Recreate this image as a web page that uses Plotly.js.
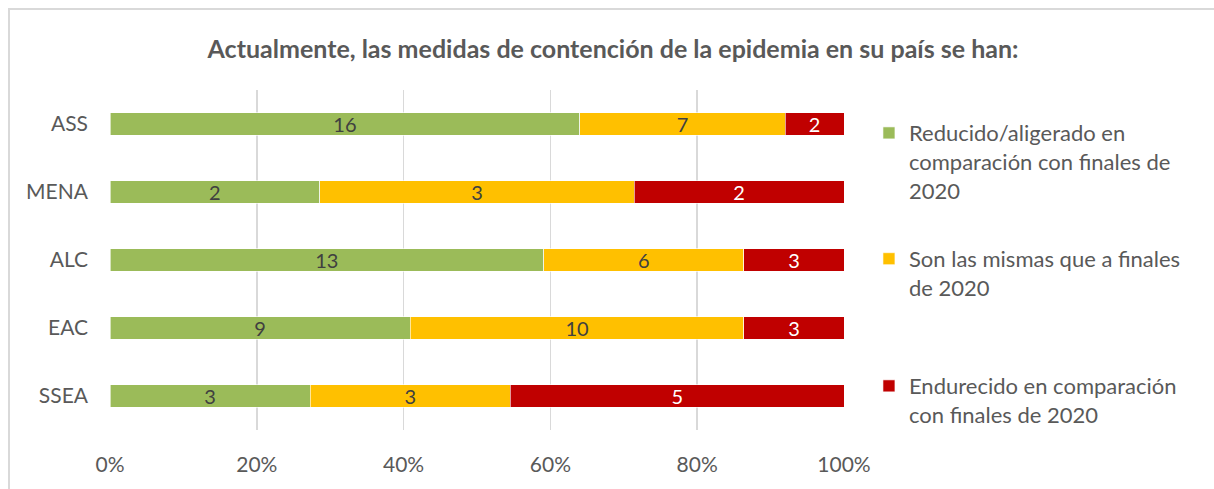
<!DOCTYPE html>
<html>
<head>
<meta charset="utf-8">
<script src="https://cdn.plot.ly/plotly-3.0.1.min.js"></script>
<style>
html,body{margin:0;padding:0;background:#fff;}
#chart{position:absolute;left:0;top:0;width:1214px;height:489px;}
#frame{position:absolute;left:8px;top:8px;width:1300px;height:600px;border-left:2px solid #d9d9d9;border-top:2px solid #d9d9d9;pointer-events:none;}
</style>
</head>
<body>
<div id="chart"></div>
<div id="frame"></div>
<script>
const categories = ["ASS", "MENA", "ALC", "EAC", "SSEA"];
const reducido = [16, 2, 13, 9, 3];
const mismas = [7, 3, 6, 10, 3];
const endurecido = [2, 2, 3, 3, 5];
const seriesNames = [
  "Reducido/aligerado en<br>comparación con finales de<br>2020",
  "Son las mismas que a finales<br>de 2020",
  "Endurecido en comparación<br>con finales de 2020"
];
const colors = ["#9BBB59", "#FFC000", "#C00000"];
const textColors = ["#404040", "#404040", "#FFFFFF"];
const titleText = "Actualmente, las medidas de contención de la epidemia en su país se han:";
const xTicks = [0, 20, 40, 60, 80, 100];
const xTickLabels = ["0%", "20%", "40%", "60%", "80%", "100%"];

const FONT = "Lato, 'Open Sans', sans-serif";
const legendIds = ["legend", "legend2", "legend3"];
const legendY = [0.935, 0.565, 0.191];
const allSeries = [reducido, mismas, endurecido];
const traces = allSeries.map((vals, i) => ({
  type: "bar",
  orientation: "h",
  y: categories,
  x: vals,
  name: seriesNames[i],
  legend: legendIds[i],
  marker: {color: colors[i], line: {color: "#ffffff", width: 0.6}},
  text: vals.map(String),
  textposition: "inside",
  insidetextanchor: "middle",
  constraintext: "none",
  textangle: 0,
  textfont: {family: FONT, size: 20, color: textColors[i]},
  hoverinfo: "skip"
}));

function legendCfg(y) {
  return {
    x: 1.034, xref: "paper", xanchor: "left",
    y: y, yref: "paper", yanchor: "top",
    valign: "top",
    itemwidth: 30,
    font: {family: FONT, size: 22, color: "#595959"},
    bgcolor: "rgba(0,0,0,0)"
  };
}

const layout = {
  width: 1214,
  height: 489,
  margin: {l: 110, r: 370, t: 90, b: 59},
  paper_bgcolor: "#ffffff",
  plot_bgcolor: "#ffffff",
  barmode: "stack",
  barnorm: "percent",
  bargap: 0.676,
  showlegend: true,
  title: {
    text: "<b>" + titleText + "</b>",
    font: {family: FONT, size: 25, color: "#595959"},
    x: 0.505, xanchor: "center",
    y: 0.9, yanchor: "middle",
    yref: "container"
  },
  xaxis: {
    range: [0, 100],
    tickvals: xTicks,
    ticktext: xTickLabels,
    showgrid: true,
    gridcolor: "#d9d9d9",
    gridwidth: 1.5,
    zeroline: false,
    showline: false,
    ticks: "",
    ticklabelstandoff: 20,
    tickfont: {family: FONT, size: 21, color: "#595959"},
    fixedrange: true
  },
  yaxis: {
    type: "category",
    categoryorder: "array",
    categoryarray: categories,
    autorange: "reversed",
    showgrid: false,
    zeroline: false,
    showline: false,
    ticks: "",
    ticklabelstandoff: 21,
    tickfont: {family: FONT, size: 21, color: "#595959"},
    fixedrange: true
  },
  legend: legendCfg(legendY[0]),
  legend2: legendCfg(legendY[1]),
  legend3: legendCfg(legendY[2])
};

Plotly.newPlot("chart", traces, layout, {displayModeBar: false, staticPlot: true});
</script>
</body>
</html>
